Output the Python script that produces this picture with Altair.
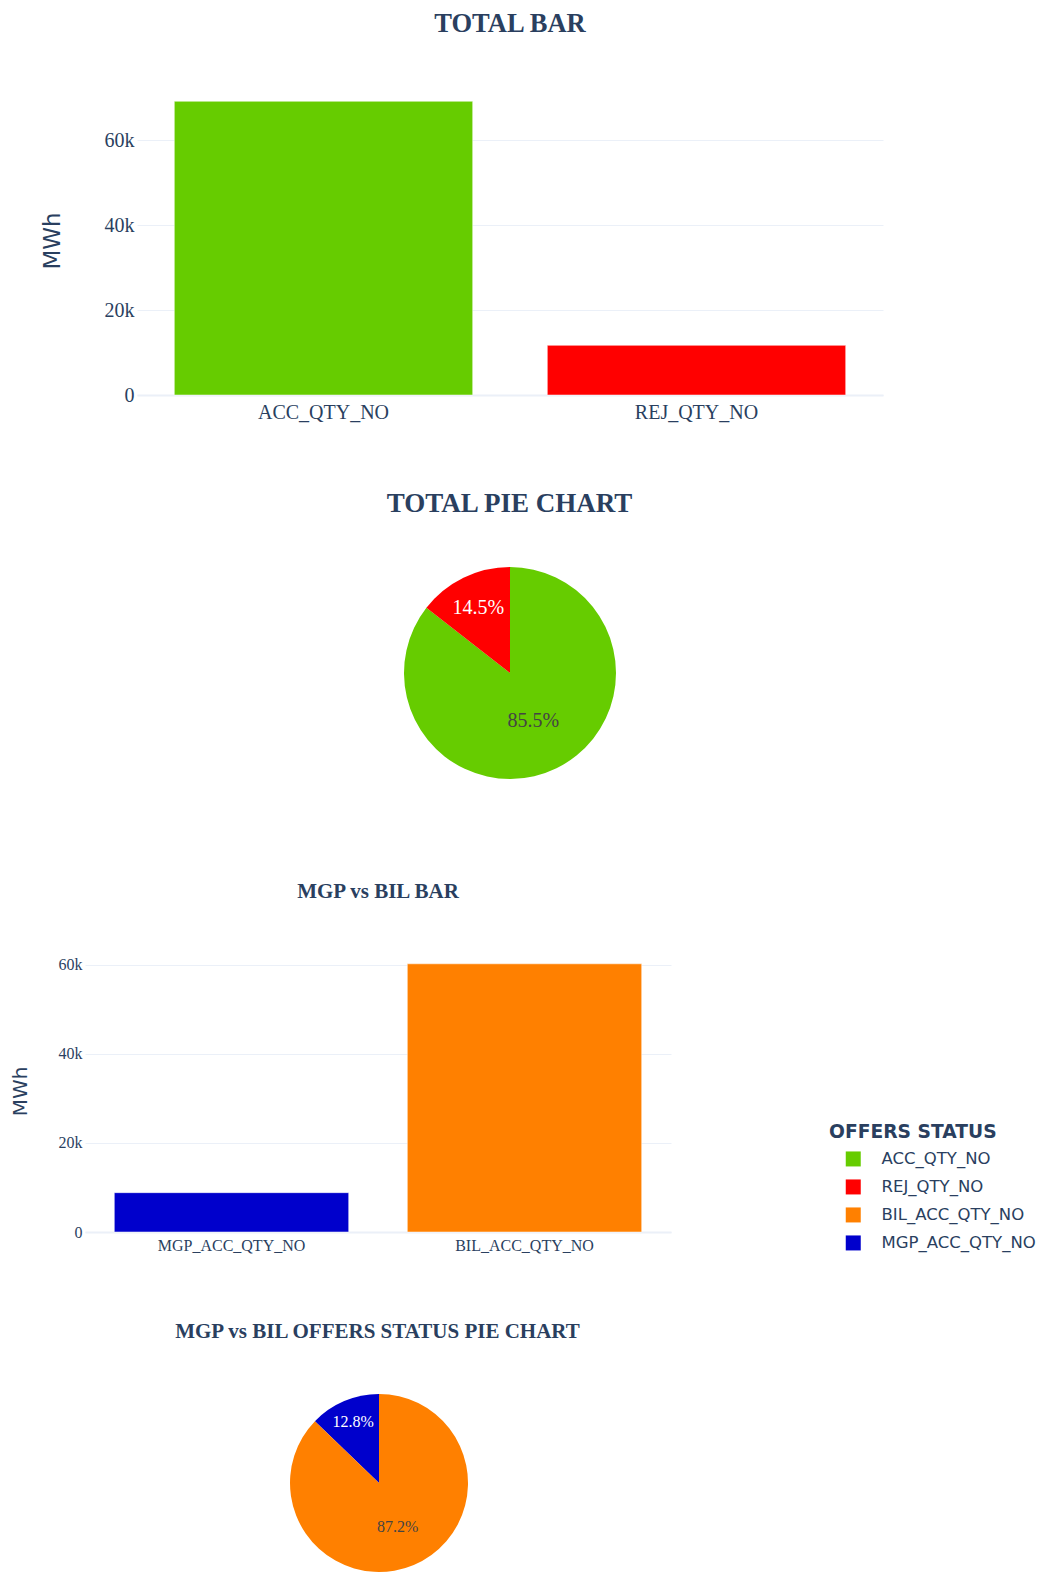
import json
import altair as alt
import pandas as pd

# ---- data ----
total_categories = ["ACC_QTY_NO", "REJ_QTY_NO"]
total_values = [69200, 11700]
total_pie_order = ["ACC_QTY_NO", "REJ_QTY_NO"]

mgp_bil_categories = ["MGP_ACC_QTY_NO", "BIL_ACC_QTY_NO"]
mgp_bil_values = [8830, 60200]
mgp_bil_pie_order = ["BIL_ACC_QTY_NO", "MGP_ACC_QTY_NO"]

legend_categories = ["ACC_QTY_NO", "REJ_QTY_NO", "BIL_ACC_QTY_NO", "MGP_ACC_QTY_NO"]
legend_colors = ["#66cc00", "#ff0000", "#ff8000", "#0000cc"]
y_ticks = [0, 20000, 40000, 60000]

TEXT = "#2a3f5f"
GRID = "#ebf0f8"
SERIF = "Liberation Serif"
SANS = "DejaVu Sans"

color_scale = alt.Scale(domain=legend_categories, range=legend_colors)


def color_enc(legend=None):
    if legend is None:
        return alt.Color("cat:N", scale=color_scale, legend=None)
    return alt.Color("cat:N", scale=color_scale, title="OFFERS STATUS", legend=legend)


def bar_chart(cats, vals, title, title_size, title_offset, width, height, ymax,
              label_size, xlabel_pad, ytitle_size, ytitle_pad, legend=None):
    df = pd.DataFrame({"cat": cats, "v": vals})
    return alt.Chart(
        df,
        title=alt.Title(title, font=SERIF, fontSize=title_size, fontWeight="bold",
                        color=TEXT, anchor="middle", frame="group", offset=title_offset),
    ).mark_bar(stroke="white", strokeWidth=0.5).encode(
        x=alt.X("cat:N", sort=cats,
                scale=alt.Scale(paddingInner=0.2, paddingOuter=0.1),
                axis=alt.Axis(title=None, labelAngle=0, labelFont=SERIF,
                              labelFontSize=label_size, labelColor=TEXT,
                              labelPadding=xlabel_pad, ticks=False, tickSize=0,
                              domain=True, domainColor=GRID, domainWidth=2, grid=False)),
        y=alt.Y("v:Q", scale=alt.Scale(domain=[0, ymax], nice=False),
                axis=alt.Axis(values=y_ticks, format="~s",
                              labelExpr="datum.value == 0 ? '0' : datum.label",
                              title="MWh", titleFont=SANS, titleFontSize=ytitle_size,
                              titleFontWeight="normal", titleColor=TEXT,
                              titlePadding=ytitle_pad, labelFont=SERIF,
                              labelFontSize=label_size, labelColor=TEXT,
                              labelPadding=3, ticks=False, tickSize=0, domain=False,
                              grid=True, gridColor=GRID, gridWidth=1)),
        color=color_enc(legend),
    ).properties(width=width, height=height)


def pie_chart(cats, vals, order, title, title_size, width, height, cx, cy, r,
              small_cat, r_small, big_cat, r_big, label_size):
    df = pd.DataFrame({"cat": cats, "v": vals})
    base = alt.Chart(df).transform_joinaggregate(
        total="sum(v)"
    ).transform_calculate(
        pct="datum.v / datum.total",
        ord="indexof(%s, datum.cat)" % json.dumps(order),
    ).encode(
        theta=alt.Theta("v:Q", stack=True),
        order=alt.Order("ord:Q", sort="ascending"),
        x=alt.value(cx),
        y=alt.value(cy),
    )
    arc = base.mark_arc(outerRadius=r).encode(color=color_enc())
    small_lbl = base.mark_text(radius=r_small, font=SERIF, fontSize=label_size,
                               color="white").encode(
        text=alt.Text("pct:Q", format=".1%"),
        opacity=alt.condition(alt.datum.cat == small_cat, alt.value(1), alt.value(0)),
    )
    big_lbl = base.mark_text(radius=r_big, font=SERIF, fontSize=label_size,
                             color="#444444").encode(
        text=alt.Text("pct:Q", format=".1%"),
        opacity=alt.condition(alt.datum.cat == big_cat, alt.value(1), alt.value(0)),
    )
    return alt.layer(
        arc, small_lbl, big_lbl,
        title=alt.Title(title, font=SERIF, fontSize=title_size, fontWeight="bold",
                        color=TEXT, anchor="middle", frame="group", offset=10),
    ).properties(width=width, height=height)


def spacer():
    return alt.Chart(pd.DataFrame({"s": [""]})).mark_text().encode(
        text="s:N").properties(width=1, height=1)


offers_legend = alt.Legend(
    orient="none", legendX=744, legendY=173, padding=0,
    titleFont=SANS, titleFontSize=18.7, titleFontWeight="bold", titleColor=TEXT,
    titlePadding=9, labelFont=SANS, labelFontSize=16.5, labelColor=TEXT,
    labelOffset=20, symbolType="square", symbolSize=225, symbolStrokeWidth=0,
    symbolOffset=16, rowPadding=11, symbolOpacity=1,
)

total_bar = bar_chart(total_categories, total_values, "TOTAL BAR", 26.5, 48.5,
                      746, 309, 72800, 20, 7, 23, 40)
row_a = alt.hconcat(spacer(), total_bar, spacing=31)

total_pie = pie_chart(total_categories, total_values, total_pie_order,
                      "TOTAL PIE CHART", 27, 1001, 285, 501, 145, 106,
                      "REJ_QTY_NO", 72, "ACC_QTY_NO", 53, 20)

mgp_bar = bar_chart(mgp_bil_categories, mgp_bil_values, "MGP vs BIL BAR", 21, 48,
                    586, 282, 63300, 16, 5, 20, 28, legend=offers_legend)
row_c = alt.hconcat(spacer(), mgp_bar, spacing=0).resolve_scale(color="independent")

mgp_pie = pie_chart(mgp_bil_categories, mgp_bil_values, mgp_bil_pie_order,
                    "MGP vs BIL OFFERS STATUS PIE CHART", 21, 737, 225, 370, 131, 89,
                    "MGP_ACC_QTY_NO", 66, "BIL_ACC_QTY_NO", 48, 16)

chart = alt.vconcat(
    row_a, total_pie, row_c, mgp_pie, spacing=68
).resolve_scale(
    color="independent"
).properties(
    padding={"left": 1, "top": 3, "right": 0, "bottom": 0},
    background="white",
).configure_view(
    stroke=None
)

chart.save("out.html", embed_options={"renderer": "svg", "actions": False})
